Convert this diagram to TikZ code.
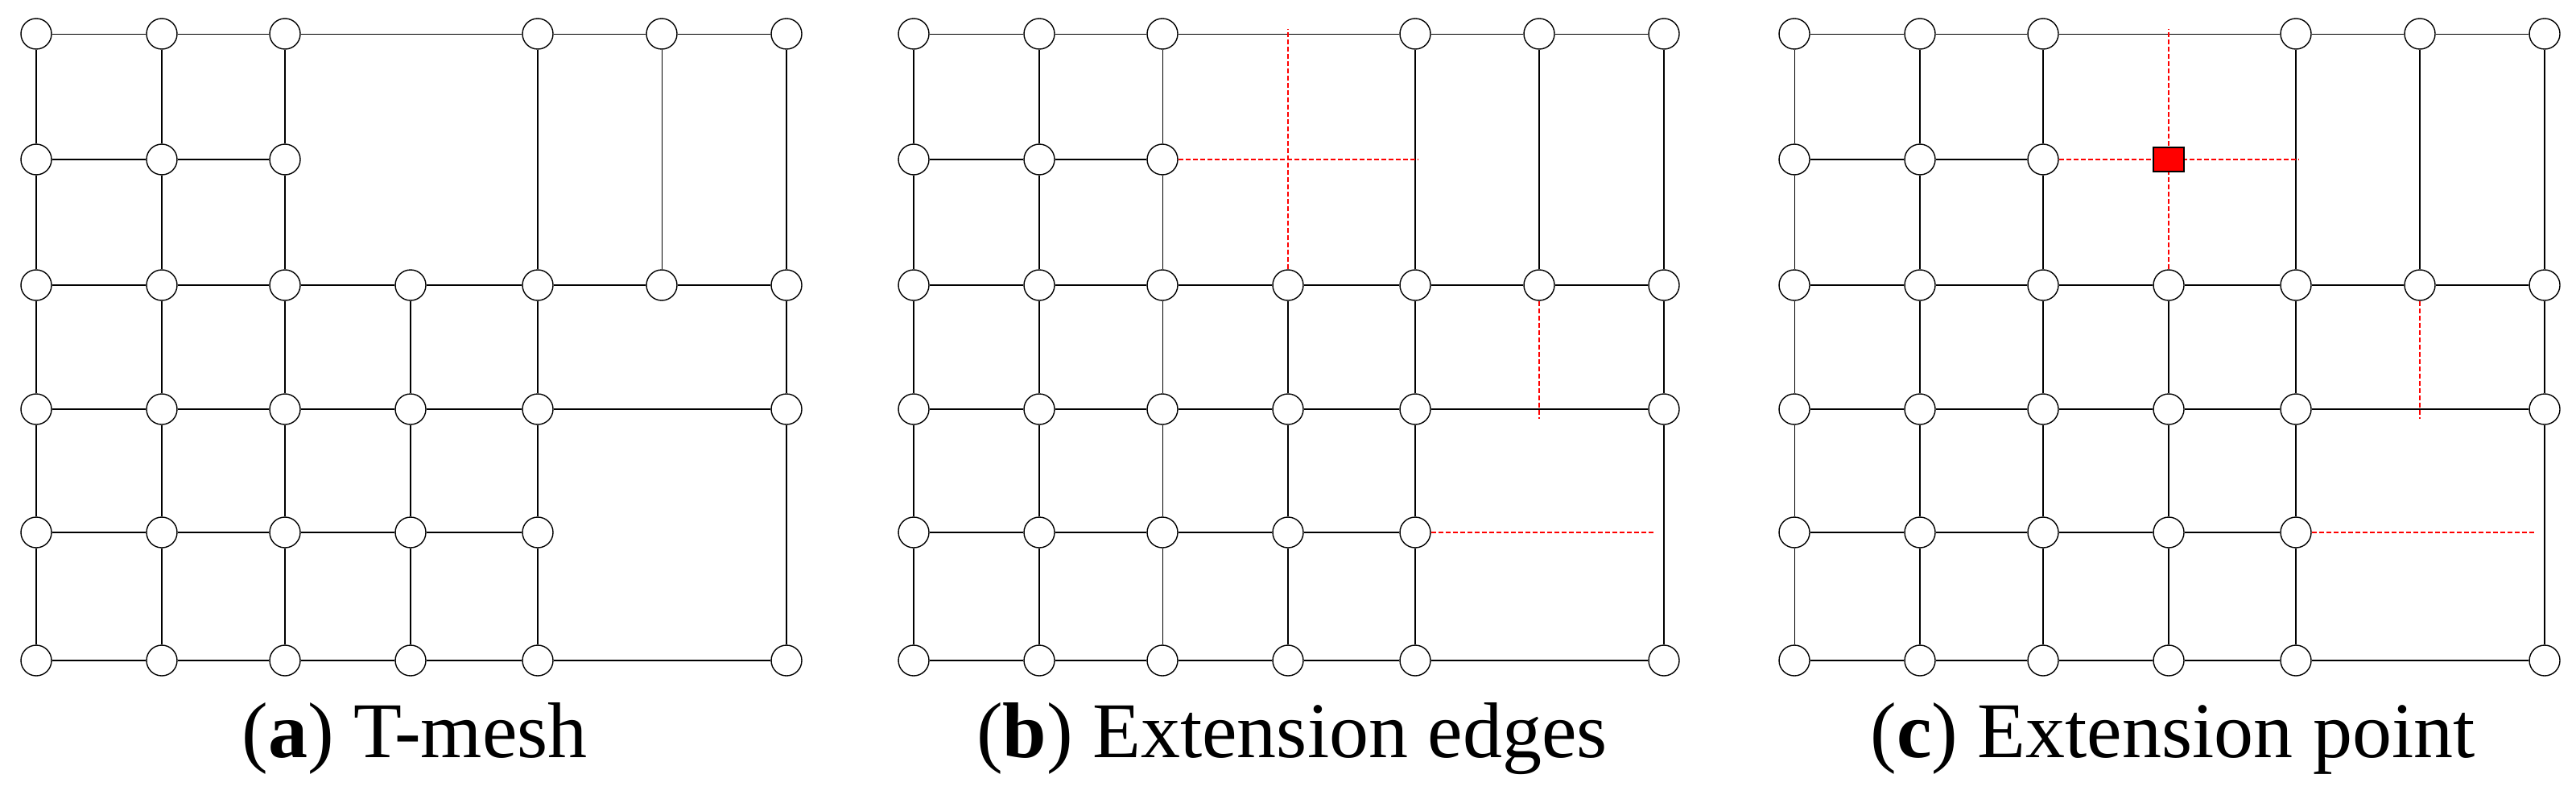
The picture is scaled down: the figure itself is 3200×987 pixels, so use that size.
\documentclass[tikz,border=0pt]{standalone}
\usepackage{fontspec}
\setmainfont{Liberation Serif}
\begin{document}
\begin{tikzpicture}[x=1pt,y=-1pt,
  vtx/.style={circle,draw,fill=white,line width=1.4pt,minimum size=38pt,inner sep=0pt},
  edge/.style={line width=2pt},
  thinedge/.style={line width=0.9pt},
  ext/.style={red,line width=1.4pt,dash pattern=on 6pt off 3pt},
  captext/.style={anchor=base,font=\fontsize{98}{110}\selectfont}]
\useasboundingbox (0,0) rectangle (3200,987);
\def\cx{{45,201,354,510,668,822,977}}
\def\ry{{42,198,354,508,661,820}}
\foreach \ox/\p/\lab/\thinv in {0/a/(\textbf{a}) T-mesh/5,1090/b/(\textbf{b}) Extension edges/2,2184/c/(\textbf{c}) Extension point/0}{
 \begin{scope}[xshift=\ox pt]
  \foreach \i/\j in {0/0,1/0,2/0,4/0,5/0,6/0,0/1,1/1,2/1,0/2,1/2,2/2,3/2,4/2,5/2,6/2,0/3,1/3,2/3,3/3,4/3,6/3,0/4,1/4,2/4,3/4,4/4,0/5,1/5,2/5,3/5,4/5,6/5}{
    \pgfmathsetmacro\xx{\cx[\i]}\pgfmathsetmacro\yy{\ry[\j]}
    \node[vtx] (\p-\i-\j) at (\xx,\yy) {};
  }
  \foreach \a/\b/\c/\d in {0/0/1/0,1/0/2/0,2/0/4/0,4/0/5/0,5/0/6/0}{
    \draw[thinedge] (\p-\a-\b) -- (\p-\c-\d);}
  \foreach \a/\b/\c/\d in {0/1/1/1,1/1/2/1,
     0/2/1/2,1/2/2/2,2/2/3/2,3/2/4/2,4/2/5/2,5/2/6/2,
     0/3/1/3,1/3/2/3,2/3/3/3,3/3/4/3,4/3/6/3,
     0/4/1/4,1/4/2/4,2/4/3/4,3/4/4/4,
     0/5/1/5,1/5/2/5,2/5/3/5,3/5/4/5,4/5/6/5,
     0/0/0/1,0/1/0/2,0/2/0/3,0/3/0/4,0/4/0/5,
     1/0/1/1,1/1/1/2,1/2/1/3,1/3/1/4,1/4/1/5,
     2/0/2/1,2/1/2/2,2/2/2/3,2/3/2/4,2/4/2/5,
     3/2/3/3,3/3/3/4,3/4/3/5,
     4/0/4/2,4/2/4/3,4/3/4/4,4/4/4/5,
     5/0/5/2,
     6/0/6/2,6/2/6/3,6/3/6/5}{
    \ifnum\a=\c\ifnum\a=\thinv\relax
      \draw[thinedge] (\p-\a-\b) -- (\p-\c-\d);
    \else
      \draw[edge] (\p-\a-\b) -- (\p-\c-\d);
    \fi\else
      \draw[edge] (\p-\a-\b) -- (\p-\c-\d);
    \fi}
  \node[captext] (\p-cap) at (515,940) {\lab};
 \end{scope}
}
\foreach \ox/\p in {1090/b,2184/c}{
 \begin{scope}[xshift=\ox pt]
  \coordinate (\p-e1) at (510,36);
  \coordinate (\p-e2) at (671,198);
  \coordinate (\p-e3) at (822,520);
  \coordinate (\p-e4) at (965,661);
  \draw[ext] (\p-3-2) -- (\p-e1);
  \draw[ext] (\p-2-1) -- (\p-e2);
  \draw[ext] (\p-5-2) -- (\p-e3);
  \draw[ext] (\p-4-4) -- (\p-e4);
 \end{scope}
}
\node[draw,fill=red,line width=1.4pt,minimum width=38pt,minimum height=30pt,inner sep=0pt] (sq) at (2694,198) {};
\end{tikzpicture}
\end{document}
